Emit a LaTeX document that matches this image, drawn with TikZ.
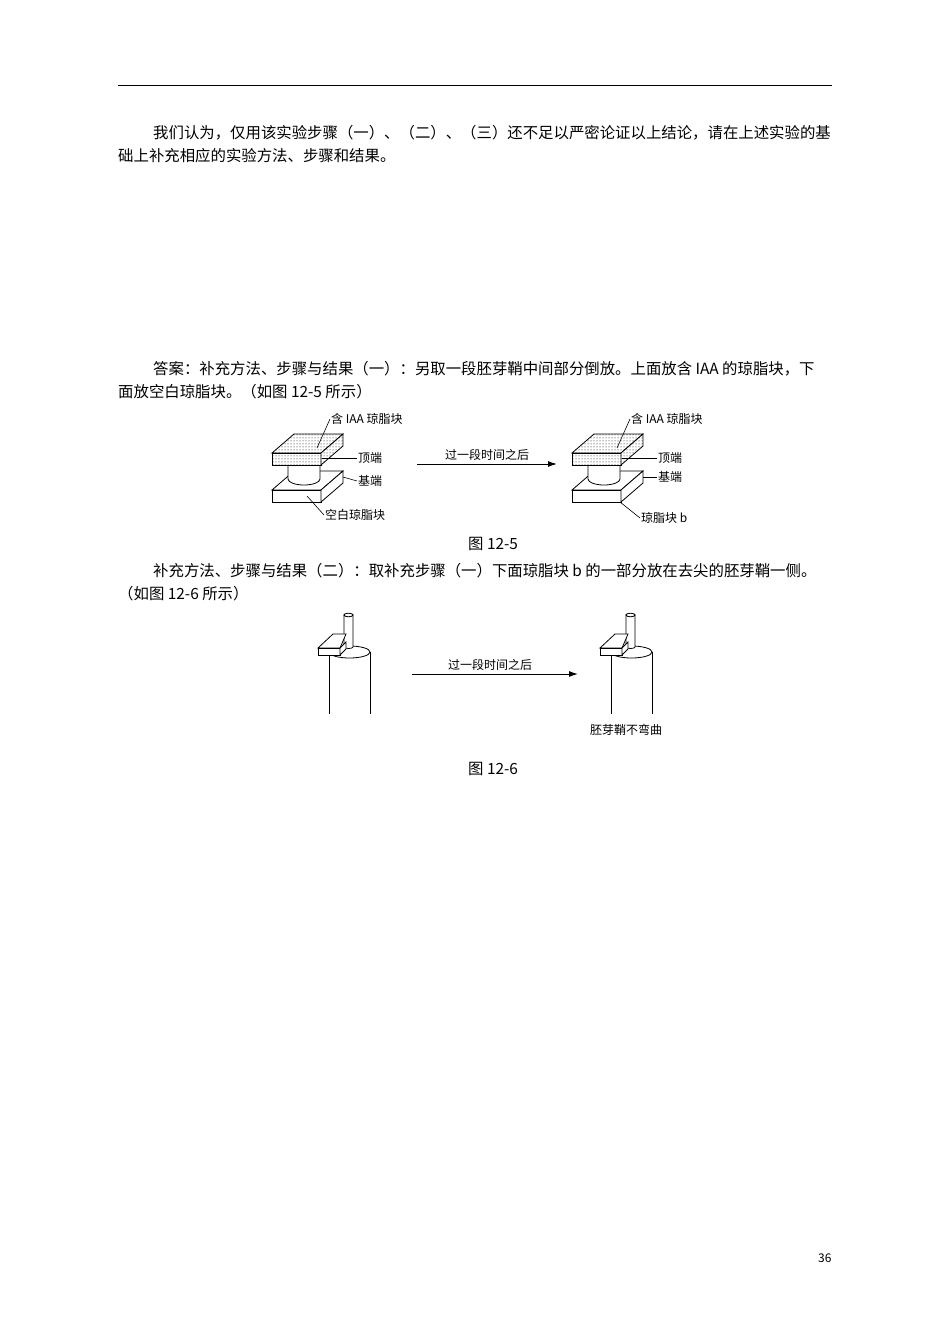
\documentclass[tikz,border=0pt]{standalone}
\usepackage{fontspec}
\setmainfont{Noto Sans CJK SC}
\usetikzlibrary{patterns,arrows.meta}
\begin{document}
\begin{tikzpicture}[x=1pt,y=-1pt,
  body/.style={anchor=base west,inner sep=0pt,font=\fontsize{15.4}{16}\selectfont},
  lab/.style={anchor=west,inner sep=1pt,font=\fontsize{12}{13}\selectfont},
  ln/.style={line width=0.8pt},
  dotted slab/.style={ln,preaction={fill=white},pattern=dots},
  arr/.style={line width=1pt,-{Latex[length=9pt,width=6pt]}}]
\useasboundingbox (0,0) rectangle (950,1344);
\draw[line width=0.8pt] (118,85) -- (832,85);
\node[body] (p1) at (153,138) {我们认为，仅用该实验步骤（一）、（二）、（三）还不足以严密论证以上结论，请在上述实验的基};
\node[body] (p2) at (118,161) {础上补充相应的实验方法、步骤和结果。};
\node[body] (a1) at (153,374) {答案：补充方法、步骤与结果（一）：另取一段胚芽鞘中间部分倒放。上面放含 IAA 的琼脂块，下};
\node[body] (a2) at (118,397) {面放空白琼脂块。（如图 12-5 所示）};
\node[body] (c1) at (468,549) {图 12-5};
\node[body] (b1) at (153,576) {补充方法、步骤与结果（二）：取补充步骤（一）下面琼脂块 b 的一部分放在去尖的胚芽鞘一侧。};
\node[body] (b2) at (118,599) {（如图 12-6 所示）};
\node[body] (c2) at (468,774) {图 12-6};
\node[body,font=\fontsize{12}{13}\selectfont] (pg) at (818,1262) {36};
% figure 12-5
\foreach \dx/\nm in {0/L,300/R}{
\begin{scope}[xshift=\dx]
 % bottom slab
 \draw[ln,fill=white] (272,490) -- (294,471) -- (343,471) -- (321,490) -- cycle;
 \draw[ln,fill=white] (272,490) rectangle (321,502);
 \draw[ln,fill=white] (321,490) -- (343,471) -- (343,483) -- (321,502) -- cycle;
 % cylinder
 \draw[ln,fill=white] (288,463) -- (288,479) arc[start angle=180,end angle=0,x radius=16,y radius=6] -- (320,463);
 % top slab
 \draw[dotted slab] (272,453) -- (294,434) -- (343,434) -- (321,453) -- cycle;
 \draw[dotted slab] (272,453) rectangle (321,465);
 \draw[dotted slab] (321,453) -- (343,434) -- (343,446) -- (321,465) -- cycle;
 \coordinate (t\nm) at (317,448);
 \coordinate (d\nm) at (322,458);
 \coordinate (j\nm) at (343,477);
 \coordinate (k\nm) at (307,496);
\end{scope}}
\node[lab] (iaaL) at (330,419) {含 IAA 琼脂块};
\node[lab] (iaaR) at (630,419) {含 IAA 琼脂块};
\node[lab] (ddL) at (357,458) {顶端};
\node[lab] (ddR) at (657,458) {顶端};
\node[lab] (jdL) at (357,481) {基端};
\node[lab] (jdR) at (657,477) {基端};
\node[lab] (kbL) at (324,515) {空白琼脂块};
\node[lab] (kbR) at (640,518) {琼脂块 b};
\draw[line width=0.6pt] (tL) -- (iaaL.west);
\draw[line width=0.6pt] (tR) -- (iaaR.west);
\draw[line width=0.6pt] (dL) -- (ddL.west);
\draw[line width=0.6pt] (dR) -- (ddR.west);
\draw[line width=0.6pt] (jL) -- (jdL.west);
\draw[line width=0.6pt] (jR) -- (jdR.west);
\draw[line width=0.6pt] (kL) -- (kbL.west);
\draw[line width=0.6pt] (620,502) -- (kbR.west);
\coordinate (a1s) at (417,464); \coordinate (a1e) at (557,464);
\draw[arr] (a1s) -- (a1e);
\node[lab,anchor=south] (t1) at (487,462) {过一段时间之后};
% figure 12-6
\foreach \dx in {0,282}{
\begin{scope}[xshift=\dx]
 \draw[ln] (329,652) -- (329,714);
 \draw[ln] (370,652) -- (370,714);
 \draw[ln] (349.5,652) ellipse[x radius=20.5,y radius=6];
 % stalk
 \draw[ln,fill=white] (344,648) -- (344,615) -- (353,615) -- (353,647) arc[start angle=0,end angle=180,x radius=4.5,y radius=1.5];
 \draw[ln,fill=white] (348.5,615) ellipse[x radius=4.5,y radius=1.8];
 % block
 \draw[ln,fill=white] (318,648) -- (333,634) -- (346,634) -- (340,648) -- cycle;
 \draw[ln,fill=white] (318,648) rectangle (340,655);
 \draw[ln,fill=white] (340,648) -- (346,642) -- (346,649) -- (340,655) -- cycle;
\end{scope}}
\node[lab,anchor=center] (bw) at (626,730) {胚芽鞘不弯曲};
\coordinate (a2s) at (412,674); \coordinate (a2e) at (578,674);
\draw[arr] (a2s) -- (a2e);
\node[lab,anchor=south] (t2) at (490,672) {过一段时间之后};
\end{tikzpicture}
\end{document}
